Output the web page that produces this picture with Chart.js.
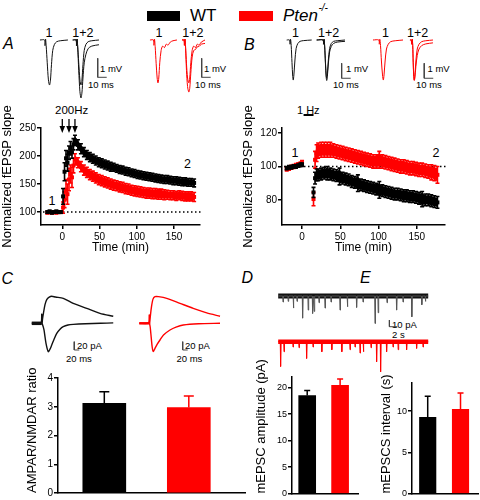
<!DOCTYPE html>
<html><head><meta charset="utf-8">
<script src="https://cdn.jsdelivr.net/npm/chart.js@4.4.1/dist/chart.umd.min.js"></script>
<style>
html,body{margin:0;padding:0;background:#fff}
#fig{position:relative;width:480px;height:500px;overflow:hidden;font-family:"Liberation Sans",Arial,Helvetica,sans-serif;color:#000}
#fig canvas{position:absolute}
.t{position:absolute;white-space:nowrap;line-height:1;color:#000}
.sw{position:absolute}
</style></head>
<body><div id="fig"></div>
<script>
// ================= DATA =================
const groups = ['WT', 'Pten-/-'];

// Panel A: 200 Hz LTP time course (min, normalized fEPSP slope %)
const timeA = [-20,-17,-14,-11,-8,-5,-2, 1,3,5,7,9,11,13,15,17, 21,25,29,33,37,41,45,49,53,57,61,65,69,73,77,81,85,89,93,97,101,105,109,113,117,121,125,129,133,137,141,145,149,153,157,161,165,169,173,177];
const wtA = [100,101,99,100,101,100,100, 128,172,196,188,206,214,207,221,228, 220,213,207,202,198,195,192,189,187,185,183,181,180,178,176,175,173,172,170,169,167,166,165,164,163,162,161,160,159,158,158,157,156,156,155,154,154,153,153,152];
const wtAErr = [2,2,2,2,2,2,2, 14,16,14,15,12,12,11,10,9, 9,9,8,8,8,8,8,8,8,8, 8,8,7,7,7,7,7,7,7,7, 7,7,7,7,7,7,7,7,7,7, 7,7,7,7,7,7,7,7,7,7];
const koA = [99,100,99,100,99,100,100, 108,122,140,132,158,168,162,183,194, 188,181,175,171,167,164,161,158,156,154,152,150,148,147,145,144,142,141,139,138,137,136,135,134,134,133,133,132,132,131,131,130,130,129,130,129,128,128,128,127];
const koAErr = [2,2,2,2,2,2,2, 10,14,18,18,20,16,18,13,10, 9,9,9,9,9,9,9,9,9,9, 9,9,9,9,9,9,9,9,9,9, 9,9,9,9,9,9,9,9,9,9, 8,8,8,8,8,8,8,8,8,8];
const tetanusTimes = [0, 9, 17];

// Panel B: 1 Hz LTD time course
const timeB = [-20,-17,-14,-11,-8,-5,-2,0, 15,17,19, 21,25,29,33,37,41,45,49,53,57,61,65,69,73,77,81,85,89,93,97,101,105,109,113,117,121,125,129,133,137,141,145,149,153,157,161,165,169,173,177];
const wtB = [99,99.5,99.5,100,100,100.5,101,101, 84.5,93,95, 95,95.5,96,96,95.5,95,94.5,94,93,92.5, 92,91,90.5,90,89,88.5,88,87.5,87,86.5, 86,85.5,85,84.5,84,83.5,83.5,83,82.5,82.5, 82,82,81.5,81,80.5,80,80,79.5,79,78.5];
const wtBErr = [1,1,1,1,1,1,1,1, 3,3.5,3.5, 3.5,3.5,3.5,4,3.5,3.5,3.5,5,3.5,3.5, 3.5,3.5,3.5,5,3.5,3.5,3.5,3.5,3.5,3.5, 5,3.5,3.5,3.5,3.5,3.5,3.5,3.5,3.5,3.5, 3.5,3.5,3.5,3.5,4.5,3.5,3.5,3.5,3.5,3.5];
const koB = [98.5,99,99.5,100,100.5,101,101.5,102, 80.5,104,108, 109.5,110,110,110,110,109.5,109,108.5,108,107.5, 107,106.5,106,105.5,105,104.5,104,103.5,103,103, 104,103,102.5,102,101.5,101,100.5,100,100,99.5, 99,99,98.5,98,98,97.5,97,96.5,96,95];
const koBErr = [1.2,1.2,1.2,1.2,1.2,1.2,1.2,1.5, 4,5,5, 4.5,4.5,4.5,4.5,4.5,4,4,4,4,4, 4,4,4,4,4,4,4,4,4,4, 5,4,4,4,4,4,4,4,4,4, 4,4,4,4,4,4,4,4.5,4.5,5];
const lfsWindow = [2, 15];

const timeTicks = [0, 50, 100, 150];
const ticksA = [100, 150, 200, 250];
const ticksB = [80, 100, 120];

// Panel C, D, E bar values (WT, Pten-/-)
const ampaNmda = [3.12, 2.97];
const ampaNmdaErr = [0.40, 0.40];
const ticksC = [0, 1, 2, 3, 4];
const mepscAmp = [18.5, 20.45];
const mepscAmpErr = [0.95, 1.15];
const ticksD = [0, 5, 10, 15, 20];
const mepscInt = [9.25, 10.2];
const mepscIntErr = [2.53, 2.0];
const ticksE = [0, 5, 10];

// Example fEPSP traces (ms, mV)
const trA_wt_1_t = [4.4,9.5,10.0,10.6,11.3,12.5,13.8,15.0,16.0,17.2,18.6,20.5,23,27,35.5];
const trA_wt_1_v = [0,0,-0.3,0.05,-0.3,-1.2,-2.1,-2.37,-2.15,-1.3,-0.55,-0.23,-0.09,-0.04,0];
const trA_wt_12_t = [40.8,44.5,45.0,45.6,46.3,47.5,48.8,50.0,51.0,52.2,53.6,55.5,58,62,70];
const trA_wt_12a_v = [0,0,-0.3,0.05,-0.3,-1.2,-2.1,-2.37,-2.15,-1.3,-0.55,-0.23,-0.09,-0.04,0];
const trA_wt_12b_v = [0,0,-0.3,0.05,-0.35,-1.6,-2.7,-3.05,-2.8,-2.0,-1.2,-0.75,-0.45,-0.32,-0.25];
const trA_ko_1_t = [4.4,8.3,8.8,9.4,10.2,11.3,12.4,13.3,14.2,15.3,16.8,18.5,20.5,22.5,24.5,27,30,34.4];
const trA_ko_1_v = [0,0,-0.28,0.05,-0.35,-1.25,-2.0,-2.26,-2.0,-1.2,-0.55,-0.32,-0.4,-0.22,-0.27,-0.11,-0.04,0];
const trA_ko_12_t = [40,42.2,42.7,43.3,44.0,45.0,46.2,47.6,48.6,49.8,51.3,53,55,57,59,61.5,65.6];
const trA_ko_12a_v = [0,0,-0.28,0.05,-0.35,-1.25,-2.0,-2.26,-2.0,-1.2,-0.55,-0.32,-0.4,-0.22,-0.27,-0.11,0];
const trA_ko_12b_v = [0,0,-0.28,0.05,-0.45,-1.6,-2.45,-2.74,-2.55,-1.75,-0.9,-0.55,-0.5,-0.36,-0.34,-0.22,-0.18];
const trB_wt_1_t = [4.1,7.3,7.8,8.4,9.1,10.0,10.8,11.4,12.1,13.2,14.6,16.5,19,23,31.9];
const trB_wt_1_v = [0,0,-0.28,0.05,-0.37,-1.5,-2.43,-2.67,-2.33,-1.4,-0.56,-0.23,-0.09,-0.04,0];
const trB_wt_12_t = [37.4,44.5,45,45.6,46.3,47.2,48.0,48.6,49.3,50.4,51.8,53.7,56.2,60.2,68.9];
const trB_wt_12a_v = [0,0,-0.28,0.05,-0.37,-1.5,-2.33,-2.55,-2.24,-1.35,-0.56,-0.23,-0.09,-0.05,0];
const trB_wt_12b_v = [0,0,-0.28,0.05,-0.42,-1.6,-2.48,-2.7,-2.43,-1.6,-0.8,-0.42,-0.23,-0.14,-0.09];
const trB_ko_1_t = [3.3,9.8,10.3,10.9,11.7,12.7,13.9,14.8,15.6,16.8,18.3,20.3,23,28,36.7];
const trB_ko_1_v = [0,0,-0.28,0.05,-0.37,-1.4,-2.33,-2.67,-2.33,-1.4,-0.6,-0.28,-0.11,-0.05,0];
const trB_ko_12_t = [44.4,45.8,46.3,46.9,47.5,48.0,48.6,49.2,49.9,51.0,52.5,54.5,57.5,62,70];
const trB_ko_12a_v = [0,0,-0.28,0.05,-0.37,-1.4,-2.33,-2.67,-2.33,-1.4,-0.6,-0.28,-0.11,-0.05,0];
const trB_ko_12b_v = [0,0,-0.28,0.05,-0.37,-1.5,-2.43,-2.7,-2.52,-1.77,-1.03,-0.6,-0.37,-0.26,-0.19];
const sbA_wt_t = [68.6,68.6,78.6], sbA_ko_t = [61.9,61.9,71.9], sbA_v = [-0.963,-1.963,-1.963];
const sbB_wt_t = [65.2,65.2,75.2], sbB_ko_t = [60.3,60.3,70.3], sbB_v = [-1.55,-2.55,-2.55];

// Panel C example EPSCs (ms, pA)
const trC_wt_pre_t = [15,55], trC_ko_pre_t = [13,53], trC_pre_v = [0,0];
const trC_wt_pos_t = [15,35,50,54,55,56.5,58,62,68,75,85,95,110,141,181,235,288,341];
const trC_wt_pos_v = [0,0,0,5,22,0,10,25,45,57,63,65,63,60,48,36,24,17];
const trC_wt_neg_t = [55,58,64,72,81,88,95,105,115,128,141,160,181,230,290,341];
const trC_wt_neg_v = [0,-3,-16,-48,-68,-62,-52,-37,-24,-14,-8,-4,-2.5,-1,0,1];
const trC_ko_pos_t = [13,48,52,53,54.5,57,62,68,76,90,123,176,229,283,336];
const trC_ko_pos_v = [0,0,4,20,0,15,40,58,64,64,60,48,36,25,17];
const trC_ko_neg_t = [54,57,61,65,69,76,85,96,110,136,160,189,250,336];
const trC_ko_neg_v = [0,-10,-35,-58,-68,-60,-50,-40,-28,-16,-9,-4,-1,0];
const sbC_wt_t = [185,185,205], sbC_ko_t = [186.8,186.8,206.8], sbC_v = [-44,-64,-64];

// Panel D/E mEPSC recordings (s, pA): event times and amplitudes
const mRange = [0.8, 38.3];
const mT_wt = [2.0,3.3,4.6,5.5,6.9,8.3,9.4,9.8,11.0,12.5,14.0,16.25,18.1,20.4,22.0,25.0,25.8,28.0,30.4,32.0,34.2,36.7,37.6];
const mA_wt = [-9,-8,-18,-8,-33,-21,-26,-23,-10,-18,-9,-21,-16,-17,-9,-41,-25,-10,-21,-9,-31,-13,-8];
const mT_ko = [1.4,2.25,4.5,6,7.9,9.5,11.7,14.2,16.7,18.75,20,21.25,22.1,24,25.4,26.4,27.9,29.5,30.8,32.9,35.4,37];
const mA_ko = [-37,-15,-8,-9,-25,-8,-15,-12,-15,-12,-8,-17,-15,-9,-30,-45,-15,-8,-12,-12,-10,-8];
const sbM_t = [28.6,28.6,30.6], sbM_v = [-35.8,-45.8,-45.8];

// ================= STYLE / HELPERS =================
const BLACK = '#000000', RED = '#ff0000', SCALEBAR = '#444444';
const FONT = '"Liberation Sans", Arial, Helvetica, sans-serif';
Chart.defaults.font.family = FONT;
Chart.defaults.color = '#000';
Chart.defaults.animation = false;
Chart.defaults.responsive = false;
Chart.defaults.events = [];
Chart.defaults.plugins.legend.display = false;
Chart.defaults.plugins.tooltip.enabled = false;

const fig = document.getElementById('fig');
function txt(s, x, capTop, size, italic, color) {
  const d = document.createElement('div');
  d.className = 't'; d.textContent = s;
  d.style.left = x + 'px'; d.style.top = (capTop - 0.13 * size) + 'px';
  d.style.fontSize = size + 'px';
  if (italic) d.style.fontStyle = 'italic';
  if (color) d.style.color = color;
  fig.appendChild(d); return d;
}
function swatch(x, y, w, h, c) {
  const d = document.createElement('div'); d.className = 'sw';
  Object.assign(d.style, {left: x+'px', top: y+'px', width: w+'px', height: h+'px', background: c});
  fig.appendChild(d);
}
function cv(x, y, w, h) {
  const c = document.createElement('canvas');
  c.width = w; c.height = h;
  Object.assign(c.style, {left: x+'px', top: y+'px', width: w+'px', height: h+'px'});
  fig.appendChild(c); return c;
}
const pts = (t, v) => t.map((x, i) => ({x, y: v[i]}));

// SEM band (behind markers) and error bars (after markers), per dataset
Chart.register({
  id: 'errbars',
  beforeDatasetDraw(chart, args) {
    const ds = chart.data.datasets[args.index];
    if (!ds.err || ds.bandFrom === undefined) return;
    const ys = chart.scales.y, ctx = chart.ctx, els = args.meta.data;
    const idx = [];
    for (let i = ds.bandFrom; i < els.length; i++) idx.push(i);
    ctx.save(); ctx.fillStyle = ds.backgroundColor;
    ctx.beginPath();
    idx.forEach((i, k) => { const x = els[i].x, y = ys.getPixelForValue(ds.data[i].y + ds.err[i] * 0.8); k ? ctx.lineTo(x, y) : ctx.moveTo(x, y); });
    idx.slice().reverse().forEach(i => ctx.lineTo(els[i].x, ys.getPixelForValue(ds.data[i].y - ds.err[i] * 0.8)));
    ctx.closePath(); ctx.fill(); ctx.restore();
  },
  afterDatasetDraw(chart, args) {
    const ds = chart.data.datasets[args.index];
    if (!ds.err) return;
    const ys = chart.scales.y, ctx = chart.ctx;
    ctx.save();
    ctx.lineWidth = ds.errWidth || 1;
    args.meta.data.forEach((el, i) => {
      const v = ds.data[i].y, e = ds.err[i];
      const col = Array.isArray(ds.errColor) ? ds.errColor[i] : (ds.errColor || ds.borderColor);
      ctx.strokeStyle = col;
      const x = el.x, y1 = ys.getPixelForValue(v + e), y2 = ys.getPixelForValue(ds.upOnly ? v : v - e);
      const c = ds.cap || 1.5;
      ctx.beginPath();
      ctx.moveTo(x, y1); ctx.lineTo(x, y2);
      ctx.moveTo(x - c, y1); ctx.lineTo(x + c, y1);
      if (!ds.upOnly) { ctx.moveTo(x - c, y2); ctx.lineTo(x + c, y2); }
      ctx.stroke();
    });
    ctx.restore();
  }
});

function yAxis(min, max, ticks, title, width, fs, align) {
  return {
    type: 'linear', min, max,
    afterFit: s => { s.width = width; },
    afterBuildTicks: s => { s.ticks = ticks.map(v => ({value: v})); },
    border: {display: true, color: '#000', width: 1.5},
    grid: {display: true, drawOnChartArea: false, drawTicks: true, tickLength: 4, color: '#000', lineWidth: 1.5},
    ticks: {padding: 1, font: {size: fs}, color: '#000'},
    title: {display: !!title, text: title, font: {size: 13}, padding: 0, color: '#000', align: align || 'center'}
  };
}
function xTimeAxis(min, max) {
  return {
    type: 'linear', min, max,
    afterFit: s => { s.height = 30; },
    afterBuildTicks: s => { s.ticks = timeTicks.map(v => ({value: v})); },
    border: {display: true, color: '#000', width: 1.5},
    grid: {display: true, drawOnChartArea: false, drawTicks: true, tickLength: 4, color: '#000', lineWidth: 1.5},
    ticks: {padding: 2, font: {size: 10}, color: '#000', maxRotation: 0},
    title: {display: true, text: 'Time (min)', font: {size: 12}, padding: 0, color: '#000'}
  };
}
const refLine = v => ({
  id: 'ref',
  beforeDatasetsDraw(ch) {
    const {ctx, chartArea: a} = ch, y = ch.scales.y.getPixelForValue(v);
    ctx.save(); ctx.setLineDash([1.5, 2.5]); ctx.lineWidth = 1.5; ctx.strokeStyle = '#000';
    ctx.beginPath(); ctx.moveTo(a.left + 2, y); ctx.lineTo(a.right + 3, y); ctx.stroke(); ctx.restore();
  }
});
function series(t, m, e, c, bandFrom) {
  return {data: pts(t, m), err: e, backgroundColor: c, borderColor: c, errColor: c, bandFrom,
    pointStyle: 'rect', pointRadius: 2.8, pointBorderWidth: 0, showLine: false, errWidth: 1.6, cap: 2};
}
function timeChart(canvas, o) {
  return new Chart(canvas, {
    type: 'scatter',
    data: {datasets: o.datasets},
    options: {
      layout: {padding: {top: o.padT, right: o.padR, left: 0, bottom: 0}},
      scales: {x: xTimeAxis(o.xmin, o.xmax), y: yAxis(o.ymin, o.ymax, o.yt, 'Normalized fEPSP slope', 41, 10)}
    },
    plugins: [refLine(100)].concat(o.extra || [])
  });
}
function barChart(canvas, o) {
  const cols = [BLACK, RED];
  return new Chart(canvas, {
    type: 'bar',
    data: {datasets: [{data: o.vals.map((v, i) => ({x: i, y: v})), err: o.errs, upOnly: true,
      backgroundColor: cols, borderWidth: 0, barThickness: o.bw, errColor: cols, errWidth: 1.5, cap: o.cap}]},
    options: {
      layout: {padding: {top: o.padT, right: o.padR, left: 0, bottom: 0}},
      scales: {
        x: {type: 'linear', min: o.xmin, max: o.xmax, offset: false, afterFit: s => { s.height = 4; },
            ticks: {display: false}, grid: {display: false}, border: {display: true, color: '#000', width: 1.5}},
        y: yAxis(0, o.ymax, o.yt, o.title, o.yw, o.fs, 'start')
      }
    }
  });
}
function traceChart(canvas, o) {
  return new Chart(canvas, {
    type: 'line',
    data: {datasets: o.lines.map(l => ({data: pts(l.t, l.v), borderColor: l.c, borderWidth: l.w || 1,
      pointRadius: 0, tension: l.ten === undefined ? 0.3 : l.ten, fill: false, clip: false}))},
    options: {layout: {padding: 0},
      scales: {x: {type: 'linear', display: false, min: 0, max: o.xmax},
               y: {type: 'linear', display: false, min: o.ymin, max: o.ymax}}}
  });
}
function eventTrace(times, amps) {
  const t = [mRange[0]], v = [0];
  times.forEach((x, i) => { t.push(x - 0.08, x, x + 0.12); v.push(0, amps[i], 0); });
  t.push(mRange[1]); v.push(0);
  return {t, v};
}

// ================= TEXT =================
swatch(147, 11, 33, 10, BLACK);
txt('WT', 190, 9, 17);
swatch(239, 11, 34, 10, RED);
txt('Pten', 283, 9, 17, true);
txt('-/-', 318.5, 4.5, 10, true);
txt('A', 3, 38.5, 16, true);
txt('B', 244, 39.5, 16, true);
txt('C', 1.5, 273, 16, true);
txt('D', 241.5, 272, 16, true);
txt('E', 360, 272, 16, true);
[[45.5,'1'],[72.3,'1+2'],[155.5,'1'],[182.3,'1+2'],[292,'1'],[318,'1+2'],[382,'1'],[407,'1+2']]
  .forEach(([x, s]) => txt(s, x, 28.5, 12.5));
[[100,88],[204,195],[346,333],[427.5,416]].forEach(([a, b]) => { txt('1 mV', a, 65, 9.5); txt('10 ms', b, 81.7, 9.5); });
txt('200Hz', 55, 106, 11.5);
txt('1 Hz', 297, 106, 11);
txt('1', 48.5, 197, 12.5); txt('2', 184, 160, 12.5);
txt('1', 291.5, 148.3, 12.5); txt('2', 432.5, 148.3, 12.5);
txt('20 pA', 77, 342.5, 9.5); txt('20 ms', 66, 355.5, 9.5);
txt('20 pA', 185, 342.5, 9.5); txt('20 ms', 176.5, 355.5, 9.5);
txt('10 pA', 392, 321, 9.5); txt('2 s', 392, 331.7, 9.5);

// ================= CHARTS =================
// Panel A
timeChart(cv(0, 98, 212, 157), {
  padT: 30, padR: 12, xmin: -28.6, xmax: 184.9, ymin: 77, ymax: 250, yt: ticksA,
  datasets: [series(timeA, wtA, wtAErr, BLACK, 15), series(timeA, koA, koAErr, RED, 15)],
  extra: [{id: 'arrows', afterDraw(ch) {
    const ctx = ch.ctx, xs = ch.scales.x, top = ch.chartArea.top;
    ctx.save(); ctx.fillStyle = '#000'; ctx.strokeStyle = '#000'; ctx.lineWidth = 1.3;
    tetanusTimes.forEach(t => {
      const x = xs.getPixelForValue(t);
      ctx.beginPath(); ctx.moveTo(x, top - 9); ctx.lineTo(x, top); ctx.stroke();
      ctx.beginPath(); ctx.moveTo(x - 2.8, top - 2); ctx.lineTo(x + 2.8, top - 2); ctx.lineTo(x, top + 5); ctx.closePath(); ctx.fill();
    });
    ctx.restore();
  }}]
});
// Panel B
timeChart(cv(241, 98, 215, 157), {
  padT: 30, padR: 11, xmin: -26.2, xmax: 186.9, ymin: 65, ymax: 123, yt: ticksB,
  datasets: [series(timeB, wtB, wtBErr, BLACK, 9), series(timeB, koB, koBErr, RED, 9)],
  extra: [{id: 'lfs', afterDraw(ch) {
    const ctx = ch.ctx, xs = ch.scales.x, y = ch.chartArea.top - 13;
    ctx.save(); ctx.strokeStyle = '#000'; ctx.lineWidth = 2;
    ctx.beginPath(); ctx.moveTo(xs.getPixelForValue(lfsWindow[0]), y); ctx.lineTo(xs.getPixelForValue(lfsWindow[1]), y); ctx.stroke();
    ctx.restore();
  }}]
});
// Panel C/D/E bars
barChart(cv(25, 355, 225, 145), {vals: ampaNmda, errs: ampaNmdaErr, bw: 43, cap: 5, padT: 23, padR: 5,
  xmin: -0.548, xmax: 1.665, ymax: 4, yt: ticksC, title: 'AMPAR/NMDAR ratio', yw: 33, fs: 10});
barChart(cv(254, 355, 110, 145), {vals: mepscAmp, errs: mepscAmpErr, bw: 17, cap: 3, padT: 22, padR: 6,
  xmin: -0.462, xmax: 1.544, ymax: 22, yt: ticksD, title: 'mEPSC amplitude (pA)', yw: 38, fs: 9});
barChart(cv(379, 355, 101, 145), {vals: mepscInt, errs: mepscIntErr, bw: 16.5, cap: 3, padT: 28, padR: 2,
  xmin: -0.479, xmax: 1.533, ymax: 13.4, yt: ticksE, title: 'mEPSCS interval (s)', yw: 33, fs: 9});

// fEPSP example traces
traceChart(cv(36, 30, 95, 75), {xmax: 105.6, ymin: -3.42, ymax: 0.526, lines: [
  {t: trA_wt_1_t, v: trA_wt_1_v, c: '#111'},
  {t: trA_wt_12_t, v: trA_wt_12a_v, c: '#111'},
  {t: trA_wt_12_t, v: trA_wt_12b_v, c: '#111'},
  {t: sbA_wt_t, v: sbA_v, c: SCALEBAR, ten: 0}]});
traceChart(cv(146, 30, 95, 75), {xmax: 105.6, ymin: -3.42, ymax: 0.526, lines: [
  {t: trA_ko_1_t, v: trA_ko_1_v, c: RED},
  {t: trA_ko_12_t, v: trA_ko_12a_v, c: RED},
  {t: trA_ko_12_t, v: trA_ko_12b_v, c: RED},
  {t: sbA_ko_t, v: sbA_v, c: SCALEBAR, ten: 0}]});
traceChart(cv(283, 30, 95, 75), {xmax: 105.6, ymin: -4.333, ymax: 0.667, lines: [
  {t: trB_wt_1_t, v: trB_wt_1_v, c: '#111'},
  {t: trB_wt_12_t, v: trB_wt_12a_v, c: '#111'},
  {t: trB_wt_12_t, v: trB_wt_12b_v, c: '#111'},
  {t: sbB_wt_t, v: sbB_v, c: SCALEBAR, ten: 0}]});
traceChart(cv(370, 30, 95, 75), {xmax: 105.6, ymin: -4.333, ymax: 0.667, lines: [
  {t: trB_ko_1_t, v: trB_ko_1_v, c: RED},
  {t: trB_ko_12_t, v: trB_ko_12a_v, c: RED},
  {t: trB_ko_12_t, v: trB_ko_12b_v, c: RED},
  {t: sbB_ko_t, v: sbB_v, c: SCALEBAR, ten: 0}]});

// EPSC traces (panel C)
traceChart(cv(28, 288, 95, 68), {xmax: 380, ymin: -78.4, ymax: 84.7, lines: [
  {t: trC_wt_pre_t, v: trC_pre_v, c: '#111', w: 3.5, ten: 0},
  {t: trC_wt_pos_t, v: trC_wt_pos_v, c: '#111', w: 1.4, ten: 0.25},
  {t: trC_wt_neg_t, v: trC_wt_neg_v, c: '#111', w: 1.4, ten: 0.25},
  {t: sbC_wt_t, v: sbC_v, c: SCALEBAR, ten: 0}]});
traceChart(cv(136, 288, 95, 68), {xmax: 380, ymin: -78.4, ymax: 84.7, lines: [
  {t: trC_ko_pre_t, v: trC_pre_v, c: RED, w: 2.5, ten: 0},
  {t: trC_ko_pos_t, v: trC_ko_pos_v, c: RED, w: 1.4, ten: 0.25},
  {t: trC_ko_neg_t, v: trC_ko_neg_v, c: RED, w: 1.4, ten: 0.25},
  {t: sbC_ko_t, v: sbC_v, c: SCALEBAR, ten: 0}]});

// mEPSC traces (panels D/E)
const evWt = eventTrace(mT_wt, mA_wt), evKo = eventTrace(mT_ko, mA_ko);
traceChart(cv(275, 284, 160, 46), {xmax: 40, ymin: -50.7, ymax: 17.9, lines: [
  {t: evWt.t, v: evWt.v, c: '#555', w: 1, ten: 0},
  {t: mRange, v: [0, 0], c: '#111', w: 5, ten: 0},
  {t: sbM_t, v: sbM_v, c: SCALEBAR, ten: 0}]});
traceChart(cv(275, 330, 160, 50), {xmax: 40, ymin: -57.2, ymax: 17.46, lines: [
  {t: evKo.t, v: evKo.v, c: RED, w: 1, ten: 0},
  {t: mRange, v: [0, 0], c: RED, w: 4.5, ten: 0}]});
</script>
</body></html>
